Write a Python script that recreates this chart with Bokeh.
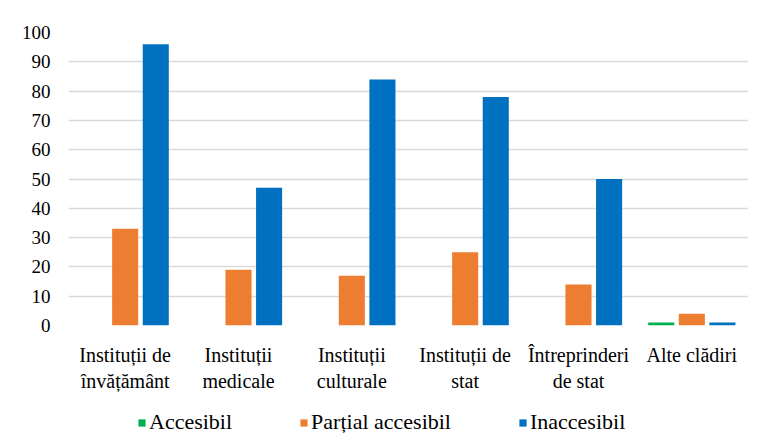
from bokeh.plotting import figure
from bokeh.layouts import column
from bokeh.models import FactorRange, Legend, LegendItem, FixedTicker, ColumnDataSource
from bokeh.transform import dodge
from bokeh.embed import file_html
from bokeh.resources import INLINE

categories = ["Instituții de\nînvățământ", "Instituții\nmedicale", "Instituții\nculturale",
              "Instituții de\nstat", "Întreprinderi\nde stat", "Alte clădiri"]
accesibil = [0, 0, 0, 0, 0, 1]
partial = [33, 19, 17, 25, 14, 4]
inaccesibil = [96, 47, 84, 78, 50, 1]
series_names = ["Accesibil", "Parțial accesibil", "Inaccesibil"]
colors = ["#00B050", "#ED7D31", "#0070C0"]
y_ticks = [0, 10, 20, 30, 40, 50, 60, 70, 80, 90, 100]

FONT = "Liberation Serif"

src = ColumnDataSource(dict(cat=categories, acc=accesibil, par=partial, ina=inaccesibil))

p = figure(width=758, height=397, x_range=FactorRange(*categories, range_padding=0),
           y_range=(0, 100), output_backend="svg", toolbar_location=None,
           min_border_left=68, min_border_right=10, min_border_top=32, min_border_bottom=72)
p.outline_line_color = None

offsets = [-0.27, 0, 0.27]
fields = ["acc", "par", "ina"]
for f, off, c in zip(fields, offsets, colors):
    p.vbar(x=dodge("cat", off, range=p.x_range), top=f, width=0.23, source=src,
           fill_color=c, line_color=None)

p.xgrid.grid_line_color = None
p.ygrid.grid_line_color = "#d9d9d9"
p.ygrid.grid_line_width = 1.3

p.yaxis.ticker = FixedTicker(ticks=y_ticks)
for ax in (p.xaxis[0], p.yaxis[0]):
    ax.axis_line_color = None
    ax.major_tick_line_color = None
    ax.minor_tick_line_color = None
    ax.major_label_text_font = FONT
    ax.major_label_text_color = "#000000"
p.yaxis.major_label_text_font_size = "19px"
p.yaxis.major_label_standoff = 12
p.xaxis.major_label_text_font_size = "20px"
p.xaxis.major_label_standoff = 12

# legend strip below the chart (legend proxies lie outside the visible range)
lg = figure(width=758, height=44, output_backend="svg", toolbar_location=None,
            x_range=(0, 1), y_range=(0, 1),
            min_border_left=68, min_border_right=10, min_border_top=0, min_border_bottom=0)
lg.axis.visible = False
lg.grid.grid_line_color = None
lg.outline_line_color = None
proxy = ColumnDataSource(dict(x=[-5], y=[-5]))
lrs = [lg.vbar(x="x", top="y", width=0.1, source=proxy,
               fill_color=c, line_color=None) for c in colors]
legend = Legend(items=[LegendItem(label=n, renderers=[r]) for n, r in zip(series_names, lrs)],
                orientation="horizontal", location=(69, 6),
                label_text_font=FONT, label_text_font_size="22px", label_text_color="#000000",
                glyph_width=9, glyph_height=9, label_standoff=3, spacing=67,
                border_line_color=None, background_fill_alpha=0, padding=4, margin=0)
lg.add_layout(legend)

layout = column(p, lg, spacing=0)
open("out.html", "w").write(file_html(layout, INLINE))
